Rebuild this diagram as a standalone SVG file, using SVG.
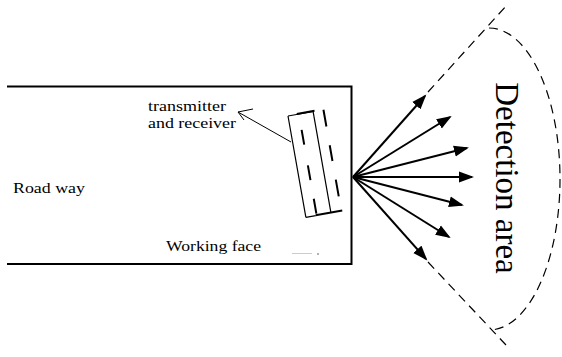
<svg xmlns="http://www.w3.org/2000/svg" width="562" height="357" viewBox="0 0 562 357">
<defs>
<marker id="ah" markerUnits="userSpaceOnUse" markerWidth="16" markerHeight="12" refX="13" refY="6" orient="auto">
<path d="M0,0.5 L15,6 L0,11.5 z" fill="#000"/>
</marker>
<style>
.lbl{font-family:"Liberation Serif","Times New Roman",serif;font-size:15.5px;fill:#000}
.sm{font-size:15px}
.big{font-family:"Liberation Serif","Times New Roman",serif;font-size:33px;fill:#000}
.ray{stroke:#000;stroke-width:2;fill:none;marker-end:url(#ah)}
.dash{stroke:#000;stroke-width:1.2;fill:none;stroke-dasharray:9 6}
.dev{stroke:#000;stroke-width:1.2;fill:none}
.devd{stroke:#000;stroke-width:2;fill:none}
</style>
</defs>
<rect width="562" height="357" fill="#fff"/>
<g id="roadway">
<path d="M7,86.5 H351.5 V264 H7" fill="none" stroke="#000" stroke-width="2"/>
<text class="lbl" x="13" y="192.5" textLength="72" lengthAdjust="spacingAndGlyphs">Road way</text>
<text class="lbl" x="166" y="251" textLength="95" lengthAdjust="spacingAndGlyphs">Working face</text>
<line x1="292" y1="253.5" x2="312" y2="253.5" stroke="#ccc" stroke-width="1"/>
<line x1="318" y1="253" x2="318" y2="255" stroke="#666" stroke-width="1"/>
</g>
<g id="device" transform="translate(288,116) rotate(-10)">
<path class="dev" d="M0,0 V103 M0,0 H26 M25.5,0 V102 M0,103 H10"/>
<path class="devd" d="M9,-0.5 H27 M10,102.5 H37"/>
<path class="devd" d="M11,16 V31 M11,52 V67 M11,86 V101 M36,0 V17 M36,36 V52 M36,71 V88"/>
</g>
<g id="label-tx">
<text class="lbl sm" x="148" y="110.5" textLength="78" lengthAdjust="spacingAndGlyphs">transmitter</text>
<text class="lbl sm" x="148" y="128" textLength="88" lengthAdjust="spacingAndGlyphs">and receiver</text>
</g>
<g id="detection">
<path class="dash" d="M489,28 A71,151 0 0 1 489,330"/>
<text class="big" transform="translate(496,178) rotate(90)" text-anchor="middle">Detection area</text>
</g>
<g id="connectors">
<path d="M291,142 L238,112" stroke="#000" stroke-width="1" fill="none"/>
<path d="M253,109 L238,112 L244,120" stroke="#000" stroke-width="1" fill="none"/>
<path class="ray" d="M353,177 L425,96"/>
<path class="ray" d="M353,177 L450,117"/>
<path class="ray" d="M353,177 L467,148"/>
<path class="ray" d="M353,177 L472,177"/>
<path class="ray" d="M353,177 L462,205"/>
<path class="ray" d="M353,177 L449,237"/>
<path class="ray" d="M353,177 L426,259"/>
<path class="dash" d="M428,92 L507,5"/>
<path class="dash" d="M428,262 L506,345"/>
</g>
</svg>
